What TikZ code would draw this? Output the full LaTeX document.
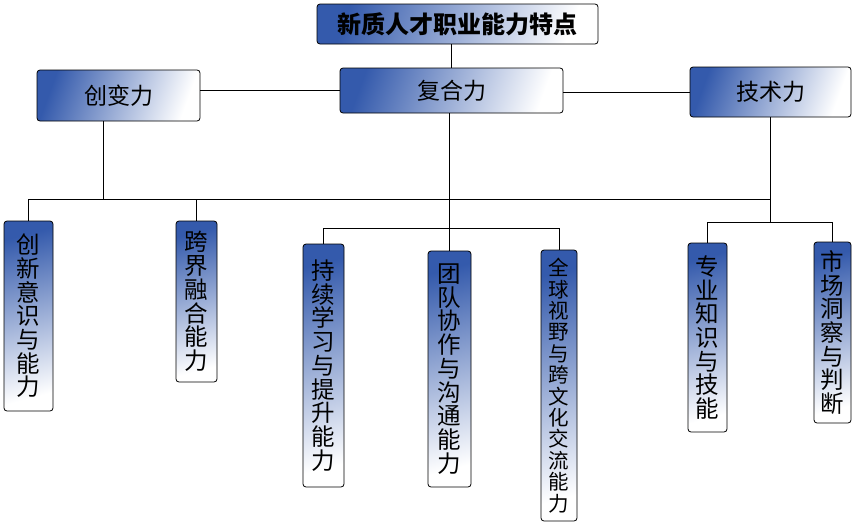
\documentclass[tikz,border=0pt]{standalone}
\usepackage{fontspec}
\setmainfont{Noto Sans CJK SC}
\definecolor{boxblue}{RGB}{52,90,172}
\begin{document}
\begin{tikzpicture}[x=1pt,y=-1pt,
  topbox/.style={draw, line width=0.8pt, rounded corners=3pt, inner sep=0pt,
    left color=boxblue, right color=white, shading angle=70,
    font=\fontsize{23}{26}\selectfont},
  vbox/.style={draw, line width=0.8pt, rounded corners=3pt, inner sep=0pt,
    top color=boxblue, bottom color=white, shading angle=15, align=center,
    font=\fontsize{23.5}{23.7}\selectfont},
  link/.style={line width=0.8pt}]
  \useasboundingbox (0,0) rectangle (858,525);

  % Draw title and top boxes
  \node (title) at (457.5,24) [topbox, minimum width=281pt, minimum height=40pt, font=\fontsize{24}{26}\selectfont\bfseries] {新质人才职业能力特点};
  \node (cb) at (118.5,95.5) [topbox, minimum width=163pt, minimum height=51pt] {创变力};
  \node (fh) at (451.5,90.5) [topbox, minimum width=223pt, minimum height=45pt] {复合力};
  \node (js) at (770.5,92) [topbox, minimum width=161pt, minimum height=50pt] {技术力};

  % Draw ability boxes
  \node (cxys) at (28.5,316) [vbox, minimum width=49pt, minimum height=190pt] {创\\新\\意\\识\\与\\能\\力};
  \node (kjrh) at (196.5,301.5) [vbox, minimum width=41pt, minimum height=161pt] {跨\\界\\融\\合\\能\\力};
  \node (cxxx) at (323.5,365.5) [vbox, minimum width=41pt, minimum height=243pt] {持\\续\\学\\习\\与\\提\\升\\能\\力};
  \node (tdxz) at (449.5,369) [vbox, minimum width=43pt, minimum height=236pt] {团\\队\\协\\作\\与\\沟\\通\\能\\力};
  \node (qqsy) at (559,385.5) [vbox, minimum width=36pt, minimum height=271pt, font=\fontsize{20.5}{21.4}\selectfont] {全\\球\\视\\野\\与\\跨\\文\\化\\交\\流\\能\\力};
  \node (zyzs) at (707.5,337.5) [vbox, minimum width=39pt, minimum height=189pt] {专\\业\\知\\识\\与\\技\\能};
  \node (scdc) at (832.5,332.5) [vbox, minimum width=37pt, minimum height=181pt] {市\\场\\洞\\察\\与\\判\\断};

  % bus points
  \coordinate (busa) at (103,199);
  \coordinate (busb) at (0,228);
  \coordinate (busc) at (0,222);

  % top links
  \draw[link] (fh.north) -- (fh.north |- title.south);
  \draw[link] (fh.west) -- (fh.west -| cb.east);
  \draw[link] (js.west) -- (js.west -| fh.east);

  % long bus
  \draw[link] (busa |- cb.south) -- (busa);
  \draw[link] (cxys.north) -- (cxys.north |- busa) -- (busa -| js.south);
  \draw[link] (kjrh.north) -- (kjrh.north |- busa);
  \draw[link] (js.south) -- (js.south |- busc);

  % middle bus
  \draw[link] (tdxz.north |- fh.south) -- (tdxz.north);
  \draw[link] (cxxx.north) -- (cxxx.north |- busb) -- (qqsy.north |- busb) -- (qqsy.north);

  % right bus
  \draw[link] (zyzs.north) -- (zyzs.north |- busc) -- (scdc.north |- busc) -- (scdc.north);
\end{tikzpicture}
\end{document}
